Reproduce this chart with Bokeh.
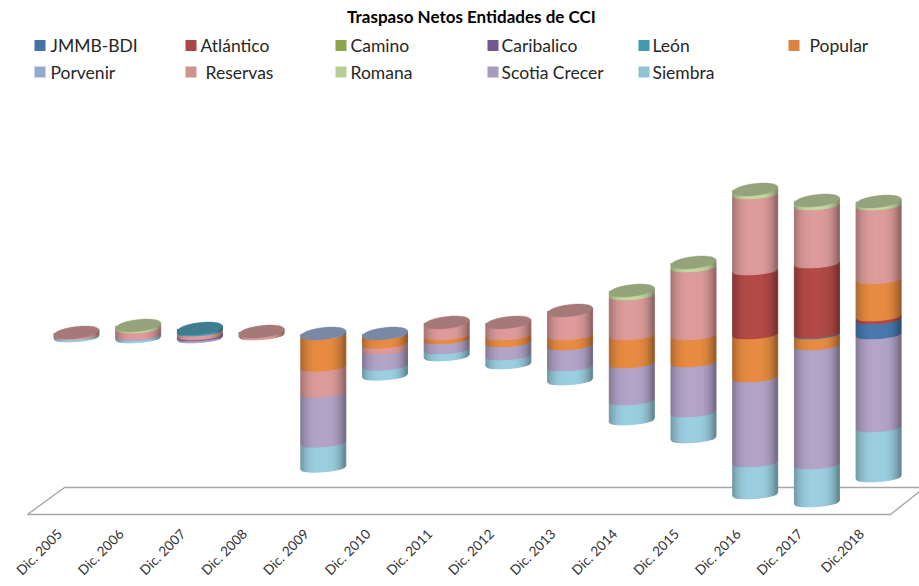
import math
from bokeh.plotting import figure
from bokeh.models import Range1d, LinearAxis, FixedTicker, ColumnDataSource
from bokeh.core.properties import value
from bokeh.embed import file_html
from bokeh.resources import INLINE

title = "Traspaso Netos  Entidades de CCI"
years = ["Dic. 2005", "Dic. 2006", "Dic. 2007", "Dic. 2008", "Dic. 2009", "Dic. 2010", "Dic. 2011",
         "Dic. 2012", "Dic. 2013", "Dic. 2014", "Dic. 2015", "Dic. 2016", "Dic. 2017", "Dic.2018"]

# values (picture pixels used as the unit of the hidden value axis)
jmmb      = [0, 0, 0, 0, 0, 0, 0, 0, 0, 0, 0, 0, 2, 16]
atlantico = [0, 0, 0, 0, 0, 0, 0, 0, 0, 0, 0, 65, 70, 3]
camino    = [0, 0, 0, 0, 0, 0, 0, 0, 0, 0, 0, 0, 0, 0]
caribalico= [0, 0, -2, 0, 0, 0, 0, 0, 0, 0, 0, 0, 0, 0]
leon      = [0, 0, 1, 0, 0, 0, 0, 0, 0, 0, 0, 0, 0, 0]
popular   = [0, 0, 0, 0, -32, -9, -5, -8, -11, -29, -28, -43, -11, 37]
porvenir  = [-1, -2, 0, 0, -0.3, -0.3, 0, 0, 0, 0, 0, 0, 0, 0]
reservas  = [1, 7, 4, 2, -26, -6, 11, 11, 23, 40, 68, 76, 58, 74]
romana    = [0, 1, 0, 0, 0, 0, 0, 0, 0, 3, 3, 3, 3, 2]
scotia    = [0, 0, -1, 0, -50, -16, -10, -13, -21, -37, -50, -85, -119, -93]
siembra   = [-1, -1, 0, 0, -24, -9, -6, -8, -13, -19, -25, -31, -37, -49]

legend_names = ["JMMB-BDI", "Atlántico", "Camino", "Caribalico", "León", " Popular",
                "Porvenir", " Reservas", "Romana", "Scotia Crecer", "Siembra"]
legend_colors = ["#4573A7", "#AA4643", "#89A54E", "#71588F", "#4198AF", "#DB843D",
                 "#93A9CF", "#D19392", "#B9CD96", "#A99BBD", "#92C3D4"]
series_values = [jmmb, atlantico, camino, caribalico, leon, popular,
                 porvenir, reservas, romana, scotia, siembra]
# order in which the series are piled up
stack_order = [6, 0, 1, 2, 3, 5, 7, 4, 8, 9, 10]

# layout
W, H = 919, 586
PX0, STEP = 76.0, 61.7       # picture x of first cylinder, spacing
BASE = 333.0                 # picture y of zero
HALF = 22.5 / STEP           # half width of a cylinder, in category units
B, TILT = 6.0, 2.5           # cap: ellipse half height and tilt, in value units
BAND_B, BAND_TILT = 4.0, 1.7 # band edges: flatter than the cap
N = 24


def xi(px):
    return (px - PX0) / STEP


def yv(py):
    return BASE - py


def arc(yc, u):
    # front edge of a band; the mid point stays where the cap's front would be
    return yc - (B - BAND_B) - BAND_B * math.sqrt(max(0.0, 1 - u * u)) + BAND_TILT * u


def shade(hexcol, f, add=0):
    r, g, b = (int(hexcol[i:i + 2], 16) for i in (1, 3, 5))
    return "#%02x%02x%02x" % (min(255, int(r * f) + add), min(255, int(g * f) + add), min(255, int(b * f) + add))


def side_factor(u):
    return 1.06 - (0.30 if u < 0 else 0.40) * abs(u) ** 3


p = figure(width=W, height=H, frame_width=W, frame_height=518, output_backend="svg",
           toolbar_location=None, x_range=Range1d(xi(0), xi(W)),
           y_range=Range1d(yv(518), yv(0)), min_border=0, outline_line_color=None,
           background_fill_color="white", border_fill_color="white")
p.xaxis.visible = False
p.yaxis.visible = False
p.grid.visible = False

# floor
floor_x = [[xi(919), xi(64), xi(27), xi(890), xi(919)]]
floor_y = [[yv(487), yv(487), yv(514), yv(514), yv(491)]]
p.multi_line(floor_x, floor_y, line_color="#a6a6a6", line_width=1.4)

# cylinders
caps = dict(xs=[], ys=[], fill=[])
for s in stack_order:
    src = dict(xs=[], ys=[], fill=[])
    vals = series_values[s]
    below = stack_order[:stack_order.index(s)]
    for i, v in enumerate(vals):
        if v == 0:
            continue
        pos_below = sum(series_values[k][i] for k in below if series_values[k][i] > 0)
        neg_below = sum(series_values[k][i] for k in below if series_values[k][i] < 0)
        lo, hi = (pos_below, pos_below + v) if v > 0 else (neg_below + v, neg_below)
        # the top band reaches in under the cap
        top_total = max(0, sum(sv[i] for sv in series_values if sv[i] > 0))
        hidden = 3.0 if hi == top_total else 0.0
        for k in range(N):
            u0, u1 = -1 + 2 * k / N, -1 + 2 * (k + 1) / N
            um = (u0 + u1) / 2
            src["xs"].append([i + u0 * HALF, i + u1 * HALF, i + u1 * HALF, i + u0 * HALF])
            src["ys"].append([arc(hi + hidden, u0), arc(hi + hidden, u1), arc(lo, u1), arc(lo, u0)])
            src["fill"].append(shade(legend_colors[s], side_factor(um)))
    if src["xs"]:
        p.patches("xs", "ys", source=ColumnDataSource(src), fill_color="fill", line_color="fill", line_width=1.0)

for i in range(len(years)):
    pos = sum(sv[i] for sv in series_values if sv[i] > 0)
    if pos > 0:
        top_s = [s for s in stack_order if series_values[s][i] > 0][-1]
    else:
        top_s = [s for s in stack_order if series_values[s][i] < 0][0]
    angles = [2 * math.pi * k / 48 for k in range(48)]
    caps["xs"].append([i + HALF * math.cos(a) for a in angles])
    caps["ys"].append([pos + B * math.sin(a) + TILT * math.cos(a) for a in angles])
    caps["fill"].append(shade(legend_colors[top_s], 0.72, 0x10))
p.patches("xs", "ys", source=ColumnDataSource(caps), fill_color="fill", line_color="fill", line_width=0.4)

# category labels
d = 17.0 / STEP
p.extra_x_ranges["labels"] = Range1d(xi(0) + d, xi(W) + d)
ax = LinearAxis(x_range_name="labels", ticker=FixedTicker(ticks=list(range(len(years)))),
                major_label_overrides={i: y for i, y in enumerate(years)},
                major_label_orientation=math.pi / 4, major_label_standoff=7,
                axis_line_color=None, major_tick_line_color=None, minor_tick_line_color=None,
                major_label_text_font="Lato", major_label_text_font_size="13.5px",
                major_label_text_color="#333333")
p.add_layout(ax, "below")

# title
p.text([xi(473)], [yv(16)], text=[title], text_font=value("Lato"), text_font_size="17px",
       text_font_style="bold", text_align="center", text_baseline="middle", text_color="#000000")

# legend
col_sq = [34, 185, 335, 487, 638, 788]
col_tx = [50, 200, 350, 501, 652, 804]
for j, (name, color) in enumerate(zip(legend_names, legend_colors)):
    row, col = divmod(j, 6)
    yy = 45 + row * 26.5
    indent = 5 if name.startswith(" ") else 0
    p.rect([xi(col_sq[col] + 5.5)], [yv(yy)], width=11 / STEP, height=11, fill_color=color, line_color=None)
    p.text([xi(col_tx[col] + indent)], [yv(yy)], text=[name], text_font=value("Lato"), text_font_size="17.5px",
           text_align="left", text_baseline="middle", text_color="#262626")

open("out.html", "w").write(file_html(p, INLINE))
